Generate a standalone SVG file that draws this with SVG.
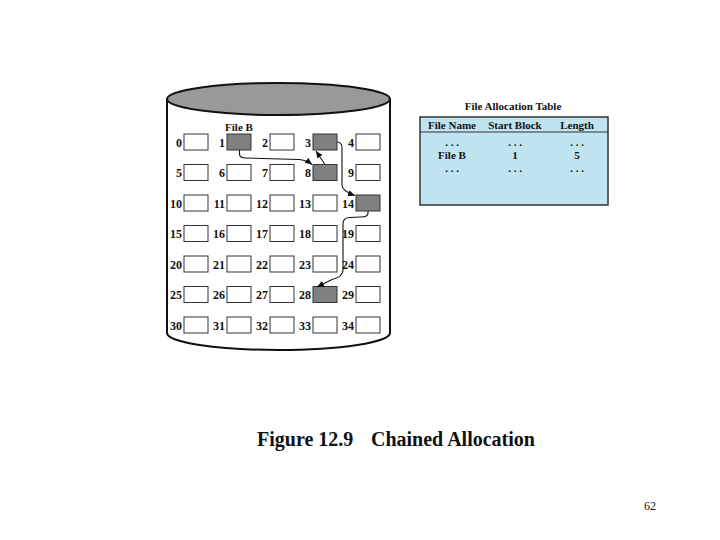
<svg xmlns="http://www.w3.org/2000/svg" width="720" height="540" viewBox="0 0 720 540">
<style>
.t{font-family:"Liberation Serif","Times New Roman",serif;font-weight:bold;fill:#111}
.lbl{font-size:12px;text-anchor:end}
.blk{fill:#ffffff;stroke:#333;stroke-width:1}
.used{fill:#808080;stroke:#333;stroke-width:1}
.conn{fill:none;stroke:#111;stroke-width:1.1}
.th{font-size:11px;text-anchor:middle}
</style>
<defs>
<marker id="ah" markerWidth="8" markerHeight="8" refX="7" refY="4" orient="auto" markerUnits="userSpaceOnUse">
<path d="M0,0.8 L7,4 L0,7.2 Z" fill="#111"/>
</marker>
</defs>
<rect width="720" height="540" fill="#ffffff"/>
<g id="cylinder">
<path d="M167,99 L167,333 A111.5,17 0 0 0 390,333 L390,99" fill="#ffffff" stroke="#111" stroke-width="2"/>
<ellipse cx="278.5" cy="99" rx="111.5" ry="16" fill="#999999" stroke="#111" stroke-width="2"/>
</g>
<g id="fileB-label"><text class="t" x="239" y="131" font-size="11" text-anchor="middle">File B</text></g>
<g id="blocks">
<g id="b0"><rect class="blk" x="184" y="134" width="24" height="16"/><text class="t lbl" x="182" y="146.5">0</text></g>
<g id="b1"><rect class="used" x="227" y="134" width="24" height="16"/><text class="t lbl" x="225" y="146.5">1</text></g>
<g id="b2"><rect class="blk" x="270" y="134" width="24" height="16"/><text class="t lbl" x="268" y="146.5">2</text></g>
<g id="b3"><rect class="used" x="313" y="134" width="24" height="16"/><text class="t lbl" x="311" y="146.5">3</text></g>
<g id="b4"><rect class="blk" x="356" y="134" width="24" height="16"/><text class="t lbl" x="354" y="146.5">4</text></g>
<g id="b5"><rect class="blk" x="184" y="164.5" width="24" height="16"/><text class="t lbl" x="182" y="177">5</text></g>
<g id="b6"><rect class="blk" x="227" y="164.5" width="24" height="16"/><text class="t lbl" x="225" y="177">6</text></g>
<g id="b7"><rect class="blk" x="270" y="164.5" width="24" height="16"/><text class="t lbl" x="268" y="177">7</text></g>
<g id="b8"><rect class="used" x="313" y="164.5" width="24" height="16"/><text class="t lbl" x="311" y="177">8</text></g>
<g id="b9"><rect class="blk" x="356" y="164.5" width="24" height="16"/><text class="t lbl" x="354" y="177">9</text></g>
<g id="b10"><rect class="blk" x="184" y="195" width="24" height="16"/><text class="t lbl" x="182" y="207.5">10</text></g>
<g id="b11"><rect class="blk" x="227" y="195" width="24" height="16"/><text class="t lbl" x="225" y="207.5">11</text></g>
<g id="b12"><rect class="blk" x="270" y="195" width="24" height="16"/><text class="t lbl" x="268" y="207.5">12</text></g>
<g id="b13"><rect class="blk" x="313" y="195" width="24" height="16"/><text class="t lbl" x="311" y="207.5">13</text></g>
<g id="b14"><rect class="used" x="356" y="195" width="24" height="16"/><text class="t lbl" x="354" y="207.5">14</text></g>
<g id="b15"><rect class="blk" x="184" y="225.5" width="24" height="16"/><text class="t lbl" x="182" y="238">15</text></g>
<g id="b16"><rect class="blk" x="227" y="225.5" width="24" height="16"/><text class="t lbl" x="225" y="238">16</text></g>
<g id="b17"><rect class="blk" x="270" y="225.5" width="24" height="16"/><text class="t lbl" x="268" y="238">17</text></g>
<g id="b18"><rect class="blk" x="313" y="225.5" width="24" height="16"/><text class="t lbl" x="311" y="238">18</text></g>
<g id="b19"><rect class="blk" x="356" y="225.5" width="24" height="16"/><text class="t lbl" x="354" y="238">19</text></g>
<g id="b20"><rect class="blk" x="184" y="256" width="24" height="16"/><text class="t lbl" x="182" y="268.5">20</text></g>
<g id="b21"><rect class="blk" x="227" y="256" width="24" height="16"/><text class="t lbl" x="225" y="268.5">21</text></g>
<g id="b22"><rect class="blk" x="270" y="256" width="24" height="16"/><text class="t lbl" x="268" y="268.5">22</text></g>
<g id="b23"><rect class="blk" x="313" y="256" width="24" height="16"/><text class="t lbl" x="311" y="268.5">23</text></g>
<g id="b24"><rect class="blk" x="356" y="256" width="24" height="16"/><text class="t lbl" x="354" y="268.5">24</text></g>
<g id="b25"><rect class="blk" x="184" y="286.5" width="24" height="16"/><text class="t lbl" x="182" y="299">25</text></g>
<g id="b26"><rect class="blk" x="227" y="286.5" width="24" height="16"/><text class="t lbl" x="225" y="299">26</text></g>
<g id="b27"><rect class="blk" x="270" y="286.5" width="24" height="16"/><text class="t lbl" x="268" y="299">27</text></g>
<g id="b28"><rect class="used" x="313" y="286.5" width="24" height="16"/><text class="t lbl" x="311" y="299">28</text></g>
<g id="b29"><rect class="blk" x="356" y="286.5" width="24" height="16"/><text class="t lbl" x="354" y="299">29</text></g>
<g id="b30"><rect class="blk" x="184" y="317" width="24" height="16"/><text class="t lbl" x="182" y="329.5">30</text></g>
<g id="b31"><rect class="blk" x="227" y="317" width="24" height="16"/><text class="t lbl" x="225" y="329.5">31</text></g>
<g id="b32"><rect class="blk" x="270" y="317" width="24" height="16"/><text class="t lbl" x="268" y="329.5">32</text></g>
<g id="b33"><rect class="blk" x="313" y="317" width="24" height="16"/><text class="t lbl" x="311" y="329.5">33</text></g>
<g id="b34"><rect class="blk" x="356" y="317" width="24" height="16"/><text class="t lbl" x="354" y="329.5">34</text></g>
</g>
<g id="connectors">
<path class="conn" d="M239.5,150 L239.5,154 Q239.5,158 246,158 L299,159.5 Q306,160 312,164.5" marker-end="url(#ah)"/>
<path class="conn" d="M325,164.5 L316,151" marker-end="url(#ah)"/>
<path class="conn" d="M337,142 Q342,142 342,148 L342,185 Q342,191 355,195.5" marker-end="url(#ah)"/>
<path class="conn" d="M368,211 L368,213 Q368,217 361,217 L349,217.5 Q343,218 343,224 L343,270 Q343,277 332,279.5 L317,287" marker-end="url(#ah)"/>
</g>
<g id="fat">
<text class="t" x="513" y="110" font-size="11" text-anchor="middle">File Allocation Table</text>
<rect x="420" y="117" width="188" height="88" fill="#c0e4f0" stroke="#333" stroke-width="1.5"/>
<line x1="420" y1="132" x2="608" y2="132" stroke="#333" stroke-width="1.2"/>
<text class="t th" x="452" y="129">File Name</text>
<text class="t th" x="515" y="129">Start Block</text>
<text class="t th" x="577" y="129">Length</text>
<text class="t th" x="452" y="146" font-size="9">. . .</text>
<text class="t th" x="515" y="146" font-size="9">. . .</text>
<text class="t th" x="577" y="146" font-size="9">. . .</text>
<text class="t th" x="452" y="159">File B</text>
<text class="t th" x="515" y="159">1</text>
<text class="t th" x="577" y="159">5</text>
<text class="t th" x="452" y="172" font-size="9">. . .</text>
<text class="t th" x="515" y="172" font-size="9">. . .</text>
<text class="t th" x="577" y="172" font-size="9">. . .</text>
</g>
<g id="caption">
<text class="t" x="257" y="446" font-size="20">Figure 12.9</text>
<text class="t" x="371" y="446" font-size="20">Chained Allocation</text>
</g>
<text x="644" y="510" font-family="'Liberation Serif','Times New Roman',serif" font-size="12" fill="#111">62</text>
</svg>
